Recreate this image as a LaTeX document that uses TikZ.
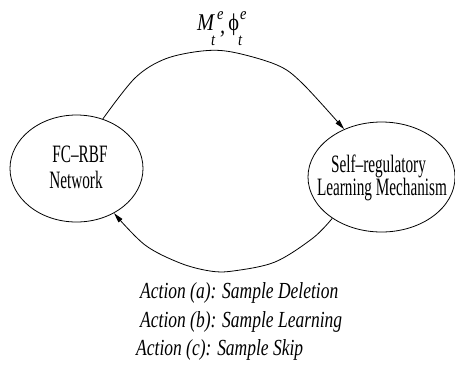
\documentclass[tikz,border=0pt]{standalone}
\usepackage{fontspec}
\setmainfont{Liberation Serif}
\newfontfamily\nodefont[FakeStretch=0.61]{Liberation Serif}
\newfontfamily\actfont[FakeStretch=0.76]{Liberation Serif}
\newfontfamily\labfont[FakeStretch=0.85]{Liberation Serif}
\usetikzlibrary{shapes.geometric,arrows.meta}

\begin{document}
\begin{tikzpicture}[x=1pt,y=-1pt,
  blob/.style={ellipse,draw,line width=0.8pt,inner sep=0pt},
  flow/.style={line width=0.8pt,-{Triangle[length=10pt,width=5pt]}},
  boxtext/.style={anchor=base,inner sep=0pt,font=\nodefont\fontsize{25}{25}\selectfont},
  acttext/.style={anchor=base west,inner sep=0pt,font=\actfont\itshape\fontsize{23}{23}\selectfont}]
\useasboundingbox (0,0) rectangle (455,365);

% the two blocks of the loop
\node[blob,minimum width=133pt,minimum height=107pt] (net) at (76.5,168.5) {};
\node[blob,minimum width=147pt,minimum height=110pt] (srm) at (381.5,177) {};

\node[boxtext] (net1) at (80,162) {FC–RBF};
\node[boxtext] (net2) at (76,188) {Network};
\node[boxtext] (srm1) at (378.5,172) {Self–regulatory};
\node[boxtext] (srm2) at (382,195) {Learning Mechanism};

% forward path with the error measures
\draw[flow] plot[smooth,tension=0.55] coordinates
  {(net.62) (135,78) (165,59) (202,51) (232,52) (277,65) (302,83) (srm.128)};
\node[anchor=base west,inner sep=0pt,font=\labfont\itshape\fontsize{24}{24}\selectfont] (err) at (197,30)
  {M\kern-3pt\rlap{\kern6pt\raisebox{11pt}{\fontsize{17}{17}\selectfont e}}\raisebox{-15pt}{\fontsize{17}{17}\selectfont t}\kern5pt\raisebox{-3pt}{,}\kern3pt{\upshape ϕ}\kern-1pt\rlap{\kern2pt\raisebox{11pt}{\fontsize{17}{17}\selectfont e}}\raisebox{-15pt}{\fontsize{17}{17}\selectfont t}};

% feedback path with the actions
\draw[flow] plot[smooth,tension=0.55] coordinates
  {(srm.220) (313,238) (275,262) (233,271) (210,271) (180,263) (145,245) (net.-50)};

\node[acttext] (act1) at (140,298) {Action (a): Sample Deletion};
\node[acttext] (act2) at (140,327) {Action (b): Sample Learning};
\node[acttext] (act3) at (136,355) {Action (c): Sample Skip};
\end{tikzpicture}
\end{document}
